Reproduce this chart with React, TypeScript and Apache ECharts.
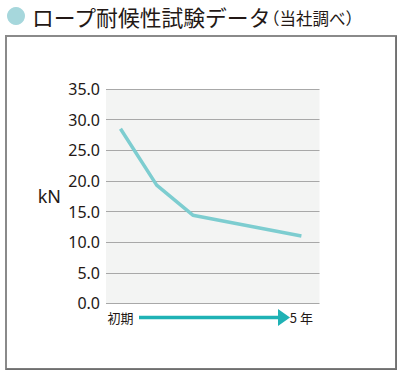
import React, { useEffect, useRef } from "react";
import * as echarts from "echarts";

const titleMain = "ロープ耐候性試験データ";
const titleSub = "（当社調べ）";
const yAxisName = "kN";
const xYears = [0, 1, 2, 5];
const strengthKN = [28.5, 19.3, 14.4, 11.0];
const xTickValues = [0, 5];
const xTickLabels = ["初期", "5 年"];

const TEXT = "#231815";
const JP = "'Noto Sans CJK JP', 'Noto Sans', sans-serif";

export default function App() {
  const ref = useRef<HTMLDivElement>(null);
  useEffect(() => {
    if (!ref.current) return;
    const chart = echarts.init(ref.current, null, { renderer: "svg" });
    chart.setOption({
      animation: false,
      backgroundColor: "#ffffff",
      grid: {
        left: 106,
        right: 80.5,
        top: 89,
        bottom: 69.6,
        show: true,
        backgroundColor: "#f3f4f3",
        borderWidth: 0,
      },
      xAxis: {
        type: "value",
        min: -0.4,
        max: 5.5,
        axisLine: { show: false },
        axisTick: { show: false },
        splitLine: { show: false },
        axisLabel: {
          customValues: xTickValues,
          formatter: (v: number) => {
            const i = xTickValues.indexOf(v);
            return i >= 0 ? xTickLabels[i] : "";
          },
          margin: 8,
          fontSize: 13,
          color: TEXT,
          fontFamily: JP,
          showMinLabel: true,
          showMaxLabel: true,
        },
      },
      yAxis: {
        type: "value",
        min: 0,
        max: 35,
        interval: 5,
        name: yAxisName,
        nameLocation: "middle",
        nameRotate: 0,
        nameGap: 45,
        nameTextStyle: {
          fontSize: 18,
          color: TEXT,
          fontFamily: "'Noto Sans', sans-serif",
          padding: [0, 0, 12, 0],
        },
        axisLine: { show: false },
        axisTick: { show: false },
        splitLine: { show: true, lineStyle: { color: "#a8a8a8", width: 1.2 } },
        axisLabel: {
          formatter: (v: number) => v.toFixed(1),
          margin: 6,
          fontSize: 16,
          color: TEXT,
          fontFamily: "'Noto Sans', sans-serif",
        },
      },
      series: [
        {
          type: "line",
          data: xYears.map((x, i) => [x, strengthKN[i]]),
          symbol: "none",
          lineStyle: { color: "#7dcdd0", width: 3.5 },
        },
      ],
      graphic: [
        {
          type: "rect",
          shape: { x: 6, y: 36, width: 390, height: 333 },
          style: { fill: "none", stroke: "#8a8a8a", lineWidth: 2 },
          silent: true,
        },
        {
          type: "polyline",
          shape: { points: [[396.2, 36], [396.2, 369.2], [6, 369.2]] },
          style: { fill: "none", stroke: "#6f6f6f", lineWidth: 1.5 },
          silent: true,
        },
        {
          type: "circle",
          shape: { cx: 16, cy: 16, r: 9 },
          style: { fill: "#a6d7dc" },
        },
        {
          type: "text",
          x: 32,
          y: 16.5,
          style: {
            text: titleMain,
            font: `21.8px ${JP}`,
            fill: TEXT,
            verticalAlign: "middle",
          },
        },
        {
          type: "text",
          x: 263,
          y: 18,
          style: {
            text: titleSub,
            font: `16.5px ${JP}`,
            fill: TEXT,
            verticalAlign: "middle",
          },
        },
        {
          type: "line",
          shape: { x1: 139, y1: 317.5, x2: 280, y2: 317.5 },
          style: { stroke: "#1fb2b5", lineWidth: 3.5 },
        },
        {
          type: "polygon",
          shape: { points: [[278, 309], [290, 317.5], [278, 326]] },
          style: { fill: "#1fb2b5" },
        },
      ],
    });
    return () => chart.dispose();
  }, []);
  return (
    <div
      ref={ref}
      style={{ position: "fixed", left: 0, top: 0, width: 400, height: 373 }}
    />
  );
}
